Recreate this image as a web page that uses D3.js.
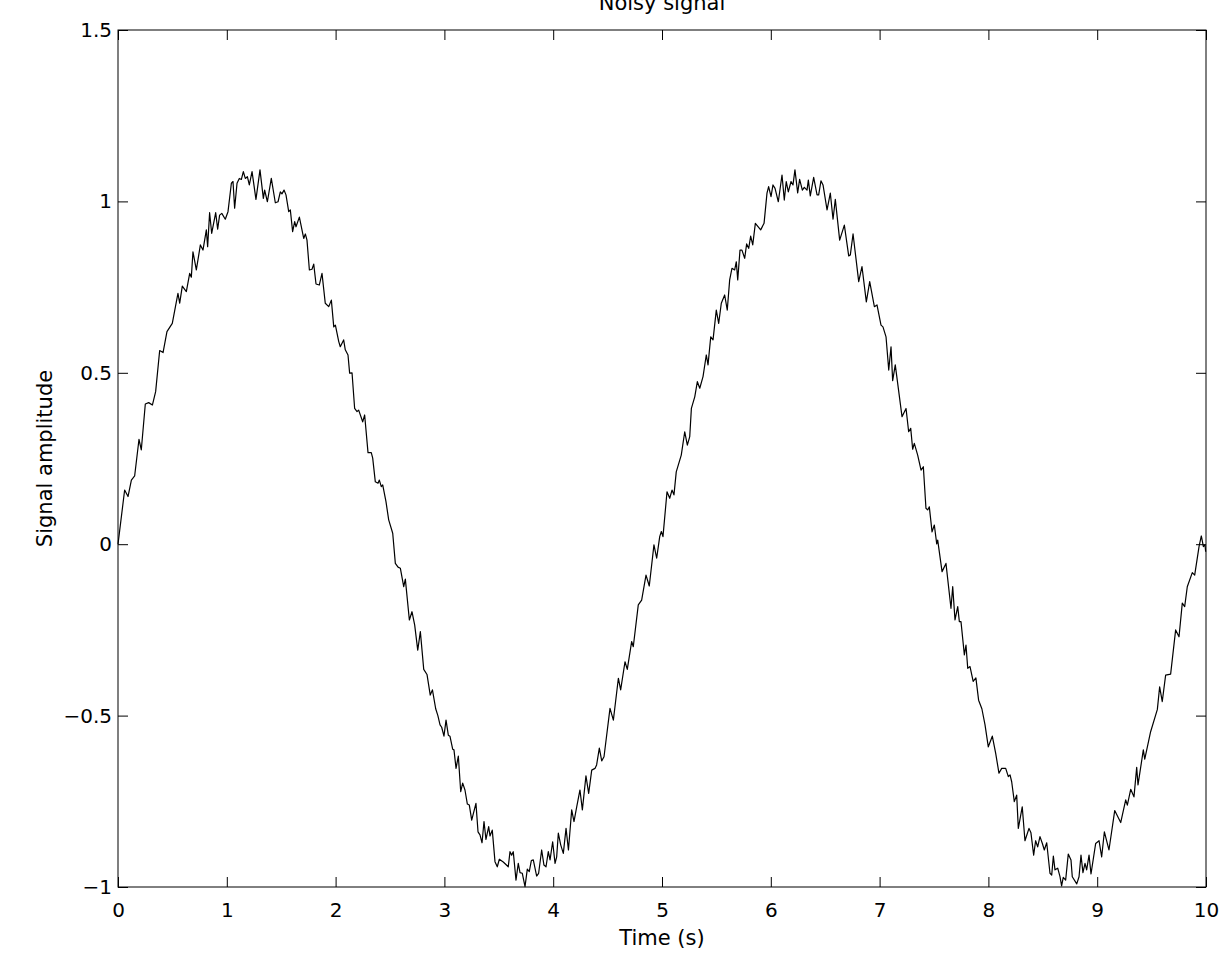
<!DOCTYPE html>
<html>
<head>
<meta charset="utf-8">
<script src="https://cdn.jsdelivr.net/npm/d3@7/dist/d3.min.js"></script>
<style>
  html, body { margin: 0; padding: 0; background: #fff; }
  svg { display: block; }
  text { font-family: "DejaVu Sans", sans-serif; fill: #000; }
</style>
</head>
<body>
<svg id="chart" width="1232" height="957"></svg>
<script>
// Data: time (s) and signal amplitude
const times = [
  0.000,0.061,0.092,0.123,0.153,0.193,0.214,0.251,0.282,0.316,0.346,0.383,0.414,0.450,0.499,0.551,0.567,0.591,0.628,0.659,
  0.674,0.689,0.720,0.757,0.781,0.812,0.824,0.842,0.861,0.898,0.916,0.934,0.954,0.986,1.011,1.042,1.057,1.072,1.094,1.115,
  1.134,1.152,1.170,1.189,1.207,1.232,1.268,1.305,1.336,1.348,1.373,1.409,1.446,1.471,1.492,1.507,1.526,1.544,1.569,1.584,
  1.605,1.624,1.636,1.667,1.707,1.722,1.737,1.759,1.783,1.799,1.820,1.850,1.875,1.905,1.937,1.961,1.983,1.998,2.029,2.043,
  2.074,2.089,2.114,2.129,2.151,2.175,2.197,2.212,2.249,2.267,2.298,2.328,2.341,2.365,2.390,2.402,2.420,2.433,2.463,2.488,
  2.525,2.549,2.574,2.595,2.626,2.641,2.678,2.702,2.727,2.755,2.779,2.810,2.840,2.870,2.890,2.920,2.940,2.960,2.975,2.996,
  3.015,3.036,3.051,3.076,3.088,3.107,3.128,3.150,3.168,3.189,3.211,3.229,3.251,3.290,3.309,3.327,3.346,3.364,3.382,3.407,
  3.419,3.440,3.465,3.486,3.505,3.541,3.587,3.603,3.618,3.633,3.658,3.679,3.695,3.716,3.741,3.762,3.780,3.799,3.817,3.848,
  3.866,3.894,3.915,3.934,3.955,3.971,3.995,4.017,4.032,4.047,4.069,4.093,4.118,4.140,4.170,4.191,4.216,4.246,4.268,4.301,
  4.326,4.354,4.384,4.399,4.424,4.446,4.467,4.522,4.553,4.599,4.620,4.660,4.681,4.721,4.736,4.782,4.813,4.853,4.883,4.926,
  4.951,4.979,4.994,5.009,5.046,5.071,5.092,5.110,5.131,5.177,5.209,5.233,5.255,5.270,5.301,5.325,5.347,5.377,5.407,5.423,
  5.448,5.469,5.499,5.521,5.545,5.576,5.600,5.622,5.643,5.668,5.683,5.696,5.717,5.735,5.760,5.778,5.797,5.815,5.834,5.858,
  5.907,5.938,5.965,5.980,6.002,6.020,6.039,6.069,6.103,6.124,6.142,6.161,6.186,6.204,6.222,6.247,6.265,6.290,6.308,6.333,
  6.345,6.363,6.394,6.425,6.440,6.461,6.480,6.517,6.547,6.572,6.593,6.633,6.676,6.716,6.731,6.756,6.808,6.838,6.878,6.909,
  6.952,6.976,7.013,7.031,7.059,7.084,7.105,7.120,7.144,7.206,7.243,7.267,7.286,7.304,7.319,7.350,7.381,7.402,7.426,7.442,
  7.457,7.482,7.503,7.525,7.534,7.574,7.610,7.656,7.672,7.693,7.718,7.733,7.748,7.779,7.794,7.810,7.831,7.860,7.885,7.910,
  7.940,7.969,7.999,8.036,8.067,8.097,8.122,8.159,8.183,8.199,8.214,8.238,8.260,8.275,8.311,8.336,8.373,8.391,8.416,8.434,
  8.453,8.474,8.496,8.514,8.536,8.566,8.582,8.597,8.612,8.637,8.658,8.673,8.688,8.710,8.734,8.759,8.771,8.812,8.833,8.851,
  8.869,8.888,8.903,8.925,8.943,8.986,9.017,9.041,9.066,9.108,9.161,9.216,9.262,9.277,9.308,9.338,9.363,9.375,9.424,9.437,
  9.491,9.553,9.574,9.598,9.629,9.675,9.721,9.752,9.782,9.804,9.828,9.874,9.896,9.936,9.957,9.976,9.991,9.997
];
const amplitude = [
  0.000,0.158,0.139,0.187,0.199,0.306,0.275,0.409,0.413,0.406,0.445,0.565,0.559,0.620,0.644,0.732,0.703,0.753,0.737,0.790,
  0.779,0.853,0.800,0.873,0.858,0.917,0.868,0.967,0.907,0.967,0.919,0.960,0.965,0.948,0.970,1.053,1.058,0.980,1.053,1.067,
  1.064,1.087,1.067,1.072,1.048,1.087,1.006,1.092,1.009,1.033,0.999,1.067,0.996,0.999,1.028,1.022,1.033,1.019,0.970,0.975,
  0.912,0.941,0.926,0.954,0.892,0.905,0.887,0.800,0.802,0.817,0.759,0.756,0.790,0.703,0.693,0.712,0.634,0.639,0.591,0.576,
  0.596,0.567,0.552,0.499,0.500,0.396,0.387,0.391,0.357,0.377,0.267,0.267,0.251,0.182,0.178,0.187,0.168,0.173,0.124,0.071,
  0.032,-0.056,-0.067,-0.070,-0.124,-0.102,-0.221,-0.197,-0.236,-0.309,-0.255,-0.365,-0.380,-0.440,-0.425,-0.480,-0.500,-0.527,-0.534,-0.560,
  -0.513,-0.557,-0.560,-0.598,-0.600,-0.654,-0.618,-0.722,-0.697,-0.717,-0.758,-0.761,-0.805,-0.756,-0.839,-0.848,-0.871,-0.809,-0.861,-0.824,
  -0.851,-0.834,-0.926,-0.941,-0.919,-0.927,-0.941,-0.897,-0.907,-0.897,-0.980,-0.931,-0.958,-0.960,-0.999,-0.948,-0.955,-0.923,-0.921,-0.968,
  -0.960,-0.892,-0.936,-0.941,-0.897,-0.921,-0.868,-0.931,-0.912,-0.843,-0.877,-0.902,-0.829,-0.892,-0.775,-0.809,-0.766,-0.717,-0.775,-0.676,
  -0.727,-0.659,-0.654,-0.644,-0.595,-0.632,-0.620,-0.479,-0.513,-0.391,-0.425,-0.343,-0.365,-0.284,-0.299,-0.177,-0.163,-0.090,-0.122,-0.002,
  -0.041,0.022,0.037,0.022,0.153,0.134,0.158,0.144,0.211,0.260,0.328,0.289,0.314,0.396,0.430,0.474,0.455,0.489,0.552,0.523,
  0.605,0.596,0.683,0.644,0.703,0.727,0.683,0.771,0.805,0.800,0.824,0.771,0.858,0.858,0.834,0.876,0.863,0.899,0.873,0.936,
  0.917,0.936,1.024,1.043,1.014,1.048,1.038,0.999,1.077,1.004,1.058,1.028,1.058,1.048,1.092,1.025,1.064,1.033,1.041,1.033,
  1.062,1.016,1.070,1.019,1.019,1.060,1.048,0.975,1.024,0.948,1.006,0.887,0.931,0.841,0.844,0.905,0.766,0.810,0.707,0.766,
  0.693,0.698,0.639,0.634,0.605,0.508,0.576,0.477,0.523,0.372,0.396,0.328,0.338,0.277,0.294,0.260,0.216,0.226,0.105,0.100,
  0.109,0.036,0.056,0.001,0.012,-0.080,-0.056,-0.187,-0.124,-0.221,-0.182,-0.226,-0.226,-0.323,-0.294,-0.362,-0.357,-0.400,-0.390,-0.455,
  -0.480,-0.527,-0.591,-0.560,-0.610,-0.668,-0.654,-0.654,-0.678,-0.673,-0.693,-0.751,-0.732,-0.829,-0.766,-0.865,-0.829,-0.842,-0.907,-0.865,
  -0.883,-0.853,-0.873,-0.892,-0.871,-0.960,-0.965,-0.910,-0.950,-0.945,-0.970,-0.997,-0.972,-0.980,-0.904,-0.921,-0.970,-0.991,-0.970,-0.907,
  -0.958,-0.931,-0.950,-0.907,-0.962,-0.873,-0.865,-0.912,-0.839,-0.892,-0.777,-0.812,-0.746,-0.761,-0.715,-0.737,-0.651,-0.702,-0.600,-0.627,
  -0.547,-0.482,-0.416,-0.459,-0.382,-0.379,-0.250,-0.270,-0.172,-0.182,-0.124,-0.083,-0.090,-0.007,0.024,-0.007,-0.002,-0.022
];
const xTicks = [0,1,2,3,4,5,6,7,8,9,10];
const yTicks = [-1,-0.5,0,0.5,1,1.5];
const titleText = "Noisy signal";
const xLabel = "Time (s)";
const yLabel = "Signal amplitude";

const svg = d3.select("#chart");
const margin = {left: 118, right: 26, top: 30, bottom: 70};
const W = 1232, H = 957;
const x = d3.scaleLinear().domain([0, 10]).range([margin.left, W - margin.right]);
const y = d3.scaleLinear().domain([-1, 1.5]).range([H - margin.bottom, margin.top]);
const fmt = d => String(d).replace("-", "\u2212");

const data = times.map((t, i) => [t, amplitude[i]]);

svg.append("path")
  .datum(data)
  .attr("fill", "none")
  .attr("stroke", "#000")
  .attr("stroke-width", 1.2)
  .attr("stroke-linejoin", "round")
  .attr("d", d3.line().x(d => x(d[0])).y(d => y(d[1])));

function styleAxis(g) {
  g.select(".domain").remove();
  g.selectAll(".tick line").attr("stroke", "#000").attr("stroke-width", 1);
  g.selectAll(".tick text").style("font-size", "20px").style("font-family", "'DejaVu Sans', sans-serif").attr("fill", "#000");
}

svg.append("g").attr("transform", `translate(0,${y(-1)})`)
  .call(d3.axisBottom(x).tickValues(xTicks).tickFormat(fmt).tickSizeInner(-10).tickSizeOuter(0).tickPadding(16))
  .call(styleAxis);
svg.append("g").attr("transform", `translate(0,${y(1.5)})`)
  .call(d3.axisTop(x).tickValues(xTicks).tickFormat("").tickSizeInner(-10).tickSizeOuter(0))
  .call(styleAxis);
svg.append("g").attr("transform", `translate(${x(0)},0)`)
  .call(d3.axisLeft(y).tickValues(yTicks).tickFormat(fmt).tickSizeInner(-10).tickSizeOuter(0).tickPadding(6))
  .call(styleAxis);
svg.append("g").attr("transform", `translate(${x(10)},0)`)
  .call(d3.axisRight(y).tickValues(yTicks).tickFormat("").tickSizeInner(-10).tickSizeOuter(0))
  .call(styleAxis);

svg.append("rect")
  .attr("x", x(0)).attr("y", y(1.5))
  .attr("width", x(10) - x(0)).attr("height", y(-1) - y(1.5))
  .attr("fill", "none").attr("stroke", "#000").attr("stroke-width", 1);

svg.append("text").attr("x", (x(0) + x(10)) / 2).attr("y", 10)
  .attr("text-anchor", "middle").style("font-size", "21px").text(titleText);
svg.append("text").attr("x", (x(0) + x(10)) / 2).attr("y", 945)
  .attr("text-anchor", "middle").style("font-size", "21px").text(xLabel);
svg.append("text")
  .attr("transform", `translate(52,${(y(-1) + y(1.5)) / 2}) rotate(-90)`)
  .attr("text-anchor", "middle").style("font-size", "21px").text(yLabel);
</script>
</body>
</html>
